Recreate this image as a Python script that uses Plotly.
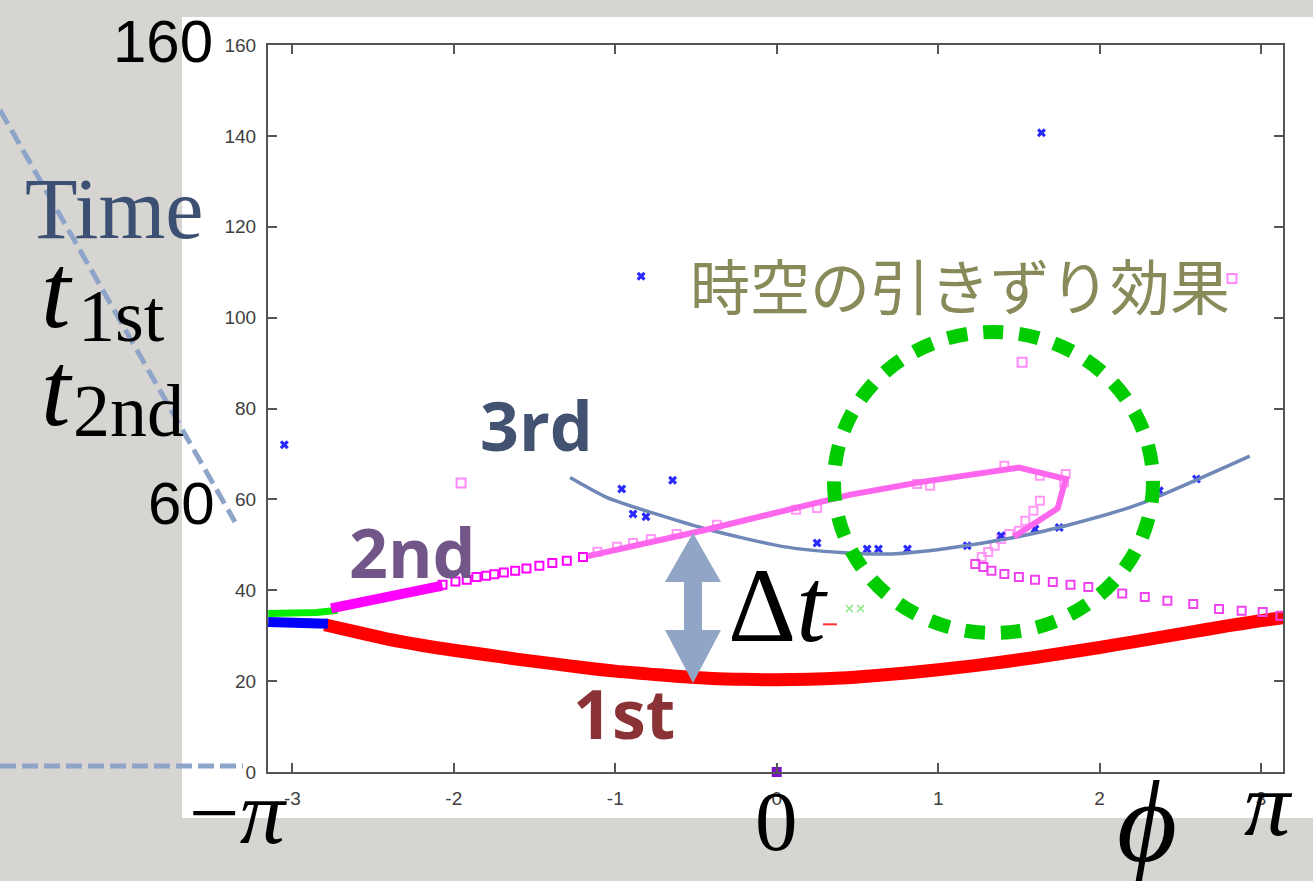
import plotly.graph_objects as go

W, H = 1313, 881
L, R, T, B = 268, 1283, 45, 772

def px(x):
    return (x - L) / (R - L)

def py(y):
    return (B - y) / (B - T)

# ---------------- data ----------------
# 1st arrival (red band)
phi_1st = [-2.80, -2.60, -2.40, -2.20, -2.00, -1.80, -1.60, -1.40, -1.20, -1.00,
           -0.80, -0.60, -0.40, -0.20, 0.00, 0.20, 0.40, 0.60, 0.80, 1.00,
           1.20, 1.40, 1.60, 1.80, 2.00, 2.20, 2.40, 2.60, 2.80, 3.00, 3.14]
t_1st = [32.4, 30.8, 29.2, 27.9, 26.8, 25.8, 24.8, 23.9, 23.0, 22.2,
         21.6, 21.0, 20.6, 20.4, 20.3, 20.4, 20.7, 21.2, 21.8, 22.5,
         23.3, 24.2, 25.2, 26.3, 27.4, 28.6, 29.8, 31.0, 32.2, 33.3, 34.0]

# blue / green short bands at the left edge
phi_blue_band = [-3.15, -3.00, -2.90, -2.78]
t_blue_band = [33.0, 33.0, 32.9, 32.6]
phi_green_band = [-3.15, -3.00, -2.85, -2.72]
t_green_band = [34.9, 34.9, 35.1, 35.6]

# 2nd arrival: dense magenta band then open squares
phi_2nd_band = [-2.76, -2.46, -2.25, -2.07]
t_2nd_band = [36.0, 38.2, 39.7, 41.0]
phi_2nd_sq = [-2.07, -1.99, -1.92, -1.86, -1.80, -1.75, -1.69, -1.62, -1.55,
              -1.47, -1.39, -1.30, -1.20]
t_2nd_sq = [41.2, 41.9, 42.3, 42.9, 43.2, 43.5, 43.9, 44.3, 44.8,
            45.4, 46.0, 46.5, 47.3]

# faint squares along the drawn 2nd curve and its loop
phi_2nd_faint = [-1.11, -0.99, -0.89, -0.78, -0.62, -0.37, 0.12, 0.25, 0.87, 0.95,
                 1.41, 1.63, 1.79, 1.78, 1.63, 1.59, 1.54, 1.50, 1.44, 1.39,
                 1.35, 1.31, 1.27]
t_2nd_faint = [48.5, 49.6, 50.4, 51.3, 52.4, 54.4, 57.7, 58.1, 63.4, 63.0,
               67.4, 65.2, 65.6, 63.7, 59.7, 57.5, 55.3, 53.1, 52.4, 51.3,
               49.8, 48.4, 47.3]

# right-hand branch of squares
phi_2nd_right = [1.23, 1.28, 1.33, 1.41, 1.50, 1.60, 1.71, 1.82, 1.93, 2.04,
                 2.14, 2.28, 2.42, 2.58, 2.74, 2.88, 3.01, 3.12]
t_2nd_right = [45.8, 45.1, 44.3, 43.6, 42.9, 42.3, 41.8, 41.2, 40.7, 40.1,
               39.3, 38.5, 37.7, 37.0, 35.9, 35.5, 35.2, 34.4]

# isolated squares
phi_sq_out = [-1.955, 1.52, 2.82]
t_sq_out = [63.6, 90.2, 108.6]

# 3rd arrival points (blue stars)
phi_3rd = [-3.05, -0.84, 1.64, -0.96, -0.645, -0.89, -0.81, 0.25, 0.56, 0.63,
           0.81, 1.18, 1.39, 1.60, 1.75, 2.37, 2.60]
t_3rd = [72.0, 109.1, 140.7, 62.3, 64.2, 56.8, 56.2, 50.4, 49.1, 49.1,
         49.1, 49.8, 52.0, 53.5, 53.8, 61.9, 64.5]

# stray points
phi_green_pts = [0.45, 0.52]
t_green_pts = [36.0, 36.0]
phi_red_pts = [0.33]
t_red_pts = [32.5]
phi_zero = [0.0]
t_zero = [0.0]

# hand-drawn guide curves
phi_3rd_curve = [-1.28, -1.05, -0.46, 0.04, 0.40, 0.71, 1.05, 1.47, 1.79, 2.25, 2.93]
t_3rd_curve = [64.8, 60.4, 53.7, 49.6, 48.3, 48.0, 49.2, 51.6, 54.2, 59.0, 69.5]
phi_2nd_curve = [-1.17, -0.45, 0.45, 0.89, 1.50, 1.79, 1.74, 1.47]
t_2nd_curve = [47.5, 53.2, 61.0, 63.8, 67.0, 64.5, 58.0, 51.8]

y_ticks = [0, 20, 40, 60, 80, 100, 120, 140, 160]
x_ticks = [-3, -2, -1, 0, 1, 2, 3]
x_tick_labels = ["-3", "-2", "-1", "0", "1", "2", "3"]

# ---------------- figure ----------------
fig = go.Figure()

fig.add_trace(go.Scatter(x=phi_1st, y=t_1st, mode="lines",
                         line=dict(color="#ff0000", width=13, shape="spline")))
fig.add_trace(go.Scatter(x=phi_green_band, y=t_green_band, mode="lines",
                         line=dict(color="#00ee00", width=7)))
fig.add_trace(go.Scatter(x=phi_blue_band, y=t_blue_band, mode="lines",
                         line=dict(color="#0000ff", width=10)))
fig.add_trace(go.Scatter(x=phi_2nd_band, y=t_2nd_band, mode="lines",
                         line=dict(color="#ff00ff", width=10)))
fig.add_trace(go.Scatter(x=phi_2nd_sq, y=t_2nd_sq, mode="markers",
                         marker=dict(symbol="square-open", size=8, color="#ff00ff",
                                     line=dict(width=2, color="#ff00ff"))))
fig.add_trace(go.Scatter(x=phi_2nd_faint, y=t_2nd_faint, mode="markers",
                         marker=dict(symbol="square-open", size=8, color="#ff99f5",
                                     line=dict(width=2, color="#ff99f5"))))
fig.add_trace(go.Scatter(x=phi_2nd_right, y=t_2nd_right, mode="markers",
                         marker=dict(symbol="square-open", size=8, color="#ee44ee",
                                     line=dict(width=2, color="#ee44ee"))))
fig.add_trace(go.Scatter(x=phi_sq_out, y=t_sq_out, mode="markers",
                         marker=dict(symbol="square-open", size=9, color="#ff88ff",
                                     line=dict(width=2, color="#ff88ff"))))
fig.add_trace(go.Scatter(x=phi_3rd, y=t_3rd, mode="markers",
                         marker=dict(symbol="x", size=8, color="#2a2aff",
                                     line=dict(width=0))))
fig.add_trace(go.Scatter(x=phi_green_pts, y=t_green_pts, mode="markers",
                         marker=dict(symbol="x-thin-open", size=7, color="#88e888",
                                     line=dict(width=1.5, color="#88e888"))))
fig.add_trace(go.Scatter(x=phi_red_pts, y=t_red_pts, mode="markers",
                         marker=dict(symbol="line-ew-open", size=10, color="#ff3030",
                                     line=dict(width=2, color="#ff3030"))))
fig.add_trace(go.Scatter(x=phi_zero, y=t_zero, mode="markers", cliponaxis=False,
                         marker=dict(symbol="square", size=10, color="#7a10c8")))
fig.add_trace(go.Scatter(x=phi_3rd_curve, y=t_3rd_curve, mode="lines",
                         line=dict(color="#6f88b8", width=3.5, shape="spline", smoothing=0.6)))
fig.add_trace(go.Scatter(x=phi_2nd_curve, y=t_2nd_curve, mode="lines",
                         line=dict(color="#ff66ee", width=6)))

shapes = []
# white panel of the pasted graph
shapes.append(dict(type="rect", xref="paper", yref="paper", layer="below",
                   x0=px(182), x1=px(1313), y0=py(818), y1=py(17),
                   fillcolor="white", line=dict(width=0)))
# dashed guide lines on the slide
shapes.append(dict(type="line", xref="paper", yref="paper", layer="below",
                   x0=px(0), y0=py(110), x1=px(235), y1=py(522),
                   line=dict(color="#8fa4c9", width=5, dash="16px,7px")))
shapes.append(dict(type="line", xref="paper", yref="paper", layer="below",
                   x0=px(0), y0=py(766), x1=px(243), y1=py(766),
                   line=dict(color="#8fa4c9", width=5, dash="16px,6px")))
# green dotted circle
shapes.append(dict(type="circle", xref="paper", yref="paper", layer="above",
                   x0=px(834), x1=px(1153), y0=py(633), y1=py(332),
                   line=dict(color="#00cc00", width=14, dash="20px,16px")))
# double arrow for delta t
arrow_pts = [(693, 533), (721, 582), (702, 582), (702, 630), (721, 630), (693, 683),
             (665, 630), (684, 630), (684, 582), (665, 582)]
path = "M " + " L ".join(f"{px(a):.5f},{py(b):.5f}" for a, b in arrow_pts) + " Z"
shapes.append(dict(type="path", xref="paper", yref="paper", layer="above",
                   path=path, fillcolor="#91a5c6", line=dict(width=0)))

ann = []

def add_text(text, cx, cy, size, color="black", family="Liberation Serif", **kw):
    ann.append(dict(text=text, x=px(cx), y=py(cy), xref="paper", yref="paper",
                    xanchor="center", yanchor="middle", showarrow=False,
                    font=dict(size=size, color=color, family=family), **kw))

add_text("160", 163, 42, 60, family="Liberation Sans")
add_text("60", 181, 503, 60, family="Liberation Sans")
add_text("Time", 114, 209, 86, color="#3b5072")
add_text("<i>t</i>", 57, 291, 106)
add_text("1st", 121, 316, 74)
add_text("<i>t</i>", 57, 389, 106)
add_text("2nd", 128, 411, 74)
add_text("\u2212<i>\u03c0</i>", 238, 813, 90)
add_text("0", 776, 821, 85)
add_text("<i>\u03c0</i>", 1268, 804, 92)
add_text("<i>\u03d5</i>", 1147, 822, 116, family="Liberation Serif, DejaVu Serif")
add_text("\u0394<i>t</i>", 778, 605, 106)
add_text("<b>3rd</b>", 536, 424, 68, color="#435270", family="Open Sans")
add_text("<b>2nd</b>", 412, 551, 68, color="#735689", family="Open Sans")
add_text("<b>1st</b>", 624, 712, 68, color="#8b3236", family="Open Sans")
add_text("時空の引きずり効果", 960, 283, 60, color="#888a5a", family="Noto Sans CJK JP")

axis_common = dict(showgrid=False, zeroline=False, showline=True, linecolor="#555555",
                   linewidth=2, mirror="ticks", ticks="inside", ticklen=9,
                   tickcolor="#555555", tickwidth=2,
                   tickfont=dict(family="Liberation Sans", size=19, color="#404040"))

fig.update_layout(
    width=W, height=H,
    margin=dict(l=L, r=W - R, t=T, b=H - B, autoexpand=False),
    paper_bgcolor="#d7d5d1", plot_bgcolor="white",
    showlegend=False,
    shapes=shapes, annotations=ann,
    xaxis=dict(range=[-3.151, 3.136], tickvals=x_ticks, ticktext=x_tick_labels,
               ticklabelstandoff=8, **axis_common),
    yaxis=dict(range=[0, 160], tickvals=y_ticks, ticklabelstandoff=6, **axis_common),
)

fig.write_html("out.html", config={"displayModeBar": False},
               post_script="document.body.style.margin='0px';document.body.style.overflow='hidden';")
